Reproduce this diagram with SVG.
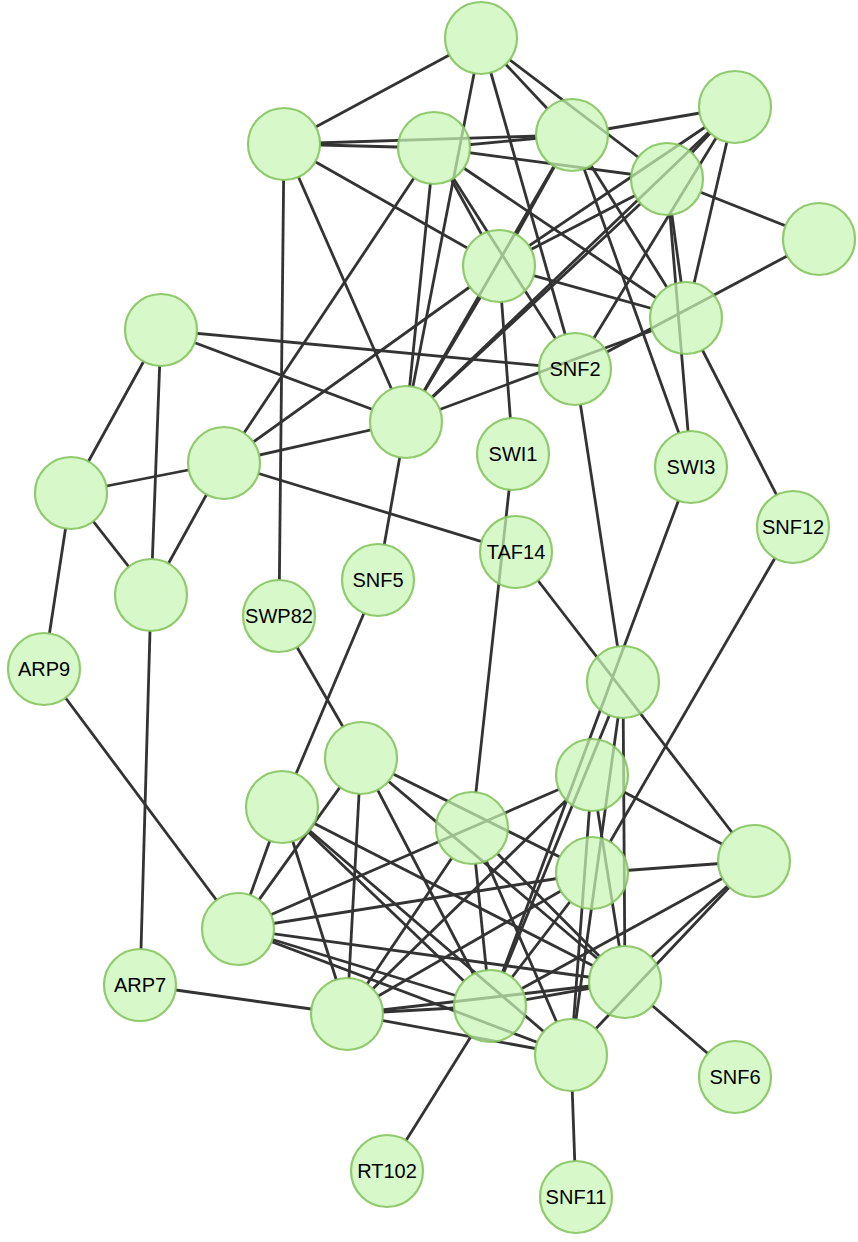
<svg xmlns="http://www.w3.org/2000/svg" width="858" height="1242" viewBox="0 0 858 1242">
<style>
#edges line{stroke:#333;stroke-width:2.8;fill:none}
.n circle{fill:#c8f5b4;fill-opacity:0.72;stroke:#86c460;stroke-opacity:0.9;stroke-width:2.2}
.n text{font-family:"Liberation Sans",Arial,sans-serif;font-size:20px;fill:#000;text-anchor:middle}
mask rect{fill:#fff}
</style>
<defs>
<mask id="m_n1" maskUnits="userSpaceOnUse" x="0" y="0" width="858" height="1242"><rect width="858" height="1242"/><circle cx="481" cy="38" r="36"/></mask>
<mask id="m_n2" maskUnits="userSpaceOnUse" x="0" y="0" width="858" height="1242"><rect width="858" height="1242"/><circle cx="284" cy="144" r="36"/></mask>
<mask id="m_n3" maskUnits="userSpaceOnUse" x="0" y="0" width="858" height="1242"><rect width="858" height="1242"/><circle cx="434" cy="148" r="36"/></mask>
<mask id="m_n4" maskUnits="userSpaceOnUse" x="0" y="0" width="858" height="1242"><rect width="858" height="1242"/><circle cx="572" cy="135" r="36"/></mask>
<mask id="m_n5" maskUnits="userSpaceOnUse" x="0" y="0" width="858" height="1242"><rect width="858" height="1242"/><circle cx="735" cy="107" r="36"/></mask>
<mask id="m_n6" maskUnits="userSpaceOnUse" x="0" y="0" width="858" height="1242"><rect width="858" height="1242"/><circle cx="667" cy="179" r="36"/></mask>
<mask id="m_n7" maskUnits="userSpaceOnUse" x="0" y="0" width="858" height="1242"><rect width="858" height="1242"/><circle cx="819" cy="239" r="36"/></mask>
<mask id="m_n8" maskUnits="userSpaceOnUse" x="0" y="0" width="858" height="1242"><rect width="858" height="1242"/><circle cx="499" cy="266" r="36"/></mask>
<mask id="m_n9" maskUnits="userSpaceOnUse" x="0" y="0" width="858" height="1242"><rect width="858" height="1242"/><circle cx="686" cy="318" r="36"/></mask>
<mask id="m_snf2" maskUnits="userSpaceOnUse" x="0" y="0" width="858" height="1242"><rect width="858" height="1242"/><circle cx="575" cy="369" r="36"/></mask>
<mask id="m_n10" maskUnits="userSpaceOnUse" x="0" y="0" width="858" height="1242"><rect width="858" height="1242"/><circle cx="161" cy="330" r="36"/></mask>
<mask id="m_n11" maskUnits="userSpaceOnUse" x="0" y="0" width="858" height="1242"><rect width="858" height="1242"/><circle cx="406" cy="422" r="36"/></mask>
<mask id="m_swi1" maskUnits="userSpaceOnUse" x="0" y="0" width="858" height="1242"><rect width="858" height="1242"/><circle cx="513" cy="454" r="36"/></mask>
<mask id="m_swi3" maskUnits="userSpaceOnUse" x="0" y="0" width="858" height="1242"><rect width="858" height="1242"/><circle cx="691" cy="467" r="36"/></mask>
<mask id="m_snf12" maskUnits="userSpaceOnUse" x="0" y="0" width="858" height="1242"><rect width="858" height="1242"/><circle cx="793" cy="527" r="36"/></mask>
<mask id="m_n12" maskUnits="userSpaceOnUse" x="0" y="0" width="858" height="1242"><rect width="858" height="1242"/><circle cx="224" cy="463" r="36"/></mask>
<mask id="m_n13" maskUnits="userSpaceOnUse" x="0" y="0" width="858" height="1242"><rect width="858" height="1242"/><circle cx="71" cy="493" r="36"/></mask>
<mask id="m_n14" maskUnits="userSpaceOnUse" x="0" y="0" width="858" height="1242"><rect width="858" height="1242"/><circle cx="151" cy="595" r="36"/></mask>
<mask id="m_taf14" maskUnits="userSpaceOnUse" x="0" y="0" width="858" height="1242"><rect width="858" height="1242"/><circle cx="516" cy="552" r="36"/></mask>
<mask id="m_snf5" maskUnits="userSpaceOnUse" x="0" y="0" width="858" height="1242"><rect width="858" height="1242"/><circle cx="378" cy="580" r="36"/></mask>
<mask id="m_swp82" maskUnits="userSpaceOnUse" x="0" y="0" width="858" height="1242"><rect width="858" height="1242"/><circle cx="279" cy="616" r="36"/></mask>
<mask id="m_arp9" maskUnits="userSpaceOnUse" x="0" y="0" width="858" height="1242"><rect width="858" height="1242"/><circle cx="44" cy="669" r="36"/></mask>
<mask id="m_n15" maskUnits="userSpaceOnUse" x="0" y="0" width="858" height="1242"><rect width="858" height="1242"/><circle cx="623" cy="682" r="36"/></mask>
<mask id="m_n16" maskUnits="userSpaceOnUse" x="0" y="0" width="858" height="1242"><rect width="858" height="1242"/><circle cx="361" cy="758" r="36"/></mask>
<mask id="m_n17" maskUnits="userSpaceOnUse" x="0" y="0" width="858" height="1242"><rect width="858" height="1242"/><circle cx="592" cy="775" r="36"/></mask>
<mask id="m_n18" maskUnits="userSpaceOnUse" x="0" y="0" width="858" height="1242"><rect width="858" height="1242"/><circle cx="282" cy="807" r="36"/></mask>
<mask id="m_n19" maskUnits="userSpaceOnUse" x="0" y="0" width="858" height="1242"><rect width="858" height="1242"/><circle cx="472" cy="828" r="36"/></mask>
<mask id="m_n20" maskUnits="userSpaceOnUse" x="0" y="0" width="858" height="1242"><rect width="858" height="1242"/><circle cx="754" cy="861" r="36"/></mask>
<mask id="m_n21" maskUnits="userSpaceOnUse" x="0" y="0" width="858" height="1242"><rect width="858" height="1242"/><circle cx="592" cy="873" r="36"/></mask>
<mask id="m_n22" maskUnits="userSpaceOnUse" x="0" y="0" width="858" height="1242"><rect width="858" height="1242"/><circle cx="238" cy="929" r="36"/></mask>
<mask id="m_arp7" maskUnits="userSpaceOnUse" x="0" y="0" width="858" height="1242"><rect width="858" height="1242"/><circle cx="140" cy="985" r="36"/></mask>
<mask id="m_n23" maskUnits="userSpaceOnUse" x="0" y="0" width="858" height="1242"><rect width="858" height="1242"/><circle cx="347" cy="1014" r="36"/></mask>
<mask id="m_n24" maskUnits="userSpaceOnUse" x="0" y="0" width="858" height="1242"><rect width="858" height="1242"/><circle cx="490" cy="1006" r="36"/></mask>
<mask id="m_n25" maskUnits="userSpaceOnUse" x="0" y="0" width="858" height="1242"><rect width="858" height="1242"/><circle cx="625" cy="982" r="36"/></mask>
<mask id="m_n26" maskUnits="userSpaceOnUse" x="0" y="0" width="858" height="1242"><rect width="858" height="1242"/><circle cx="571" cy="1055" r="36"/></mask>
<mask id="m_snf6" maskUnits="userSpaceOnUse" x="0" y="0" width="858" height="1242"><rect width="858" height="1242"/><circle cx="735" cy="1077" r="36"/></mask>
<mask id="m_rt102" maskUnits="userSpaceOnUse" x="0" y="0" width="858" height="1242"><rect width="858" height="1242"/><circle cx="387" cy="1171" r="36"/></mask>
<mask id="m_snf11" maskUnits="userSpaceOnUse" x="0" y="0" width="858" height="1242"><rect width="858" height="1242"/><circle cx="576" cy="1197" r="36"/></mask>
</defs>
<rect width="858" height="1242" fill="#fff"/>
<g id="edges">
<g mask="url(#m_n1)">
<line x1="481" y1="38" x2="284" y2="144" mask="url(#m_n2)"/>
<line x1="481" y1="38" x2="572" y2="135" mask="url(#m_n4)"/>
<line x1="481" y1="38" x2="667" y2="179" mask="url(#m_n6)"/>
<line x1="481" y1="38" x2="406" y2="422" mask="url(#m_n11)"/>
<line x1="481" y1="38" x2="575" y2="369" mask="url(#m_snf2)"/>
</g>
<g mask="url(#m_n2)">
<line x1="284" y1="144" x2="434" y2="148" mask="url(#m_n3)"/>
<line x1="284" y1="144" x2="572" y2="135" mask="url(#m_n4)"/>
<line x1="284" y1="144" x2="499" y2="266" mask="url(#m_n8)"/>
<line x1="284" y1="144" x2="406" y2="422" mask="url(#m_n11)"/>
<line x1="284" y1="144" x2="279" y2="616" mask="url(#m_swp82)"/>
</g>
<g mask="url(#m_n3)">
<line x1="434" y1="148" x2="572" y2="135" mask="url(#m_n4)"/>
<line x1="434" y1="148" x2="667" y2="179" mask="url(#m_n6)"/>
<line x1="434" y1="148" x2="499" y2="266" mask="url(#m_n8)"/>
<line x1="434" y1="148" x2="575" y2="369" mask="url(#m_snf2)"/>
<line x1="434" y1="148" x2="686" y2="318" mask="url(#m_n9)"/>
<line x1="434" y1="148" x2="406" y2="422" mask="url(#m_n11)"/>
<line x1="434" y1="148" x2="224" y2="463" mask="url(#m_n12)"/>
</g>
<g mask="url(#m_n4)">
<line x1="572" y1="135" x2="735" y2="107" mask="url(#m_n5)"/>
<line x1="572" y1="135" x2="499" y2="266" mask="url(#m_n8)"/>
<line x1="572" y1="135" x2="406" y2="422" mask="url(#m_n11)"/>
<line x1="572" y1="135" x2="686" y2="318" mask="url(#m_n9)"/>
<line x1="572" y1="135" x2="691" y2="467" mask="url(#m_swi3)"/>
</g>
<g mask="url(#m_n5)">
<line x1="735" y1="107" x2="667" y2="179" mask="url(#m_n6)"/>
<line x1="735" y1="107" x2="499" y2="266" mask="url(#m_n8)"/>
<line x1="735" y1="107" x2="406" y2="422" mask="url(#m_n11)"/>
<line x1="735" y1="107" x2="575" y2="369" mask="url(#m_snf2)"/>
<line x1="735" y1="107" x2="686" y2="318" mask="url(#m_n9)"/>
</g>
<g mask="url(#m_n6)">
<line x1="667" y1="179" x2="819" y2="239" mask="url(#m_n7)"/>
<line x1="667" y1="179" x2="499" y2="266" mask="url(#m_n8)"/>
<line x1="667" y1="179" x2="406" y2="422" mask="url(#m_n11)"/>
<line x1="667" y1="179" x2="686" y2="318" mask="url(#m_n9)"/>
<line x1="667" y1="179" x2="691" y2="467" mask="url(#m_swi3)"/>
</g>
<g mask="url(#m_n7)">
<line x1="819" y1="239" x2="575" y2="369" mask="url(#m_snf2)"/>
</g>
<g mask="url(#m_n8)">
<line x1="499" y1="266" x2="686" y2="318" mask="url(#m_n9)"/>
<line x1="499" y1="266" x2="513" y2="454" mask="url(#m_swi1)"/>
<line x1="499" y1="266" x2="406" y2="422" mask="url(#m_n11)"/>
<line x1="499" y1="266" x2="224" y2="463" mask="url(#m_n12)"/>
</g>
<g mask="url(#m_n9)">
<line x1="686" y1="318" x2="406" y2="422" mask="url(#m_n11)"/>
<line x1="686" y1="318" x2="793" y2="527" mask="url(#m_snf12)"/>
</g>
<g mask="url(#m_snf2)">
<line x1="575" y1="369" x2="161" y2="330" mask="url(#m_n10)"/>
<line x1="575" y1="369" x2="623" y2="682" mask="url(#m_n15)"/>
</g>
<g mask="url(#m_n10)">
<line x1="161" y1="330" x2="406" y2="422" mask="url(#m_n11)"/>
<line x1="161" y1="330" x2="71" y2="493" mask="url(#m_n13)"/>
<line x1="161" y1="330" x2="151" y2="595" mask="url(#m_n14)"/>
</g>
<g mask="url(#m_n11)">
<line x1="406" y1="422" x2="224" y2="463" mask="url(#m_n12)"/>
<line x1="406" y1="422" x2="378" y2="580" mask="url(#m_snf5)"/>
</g>
<g mask="url(#m_n12)">
<line x1="224" y1="463" x2="71" y2="493" mask="url(#m_n13)"/>
<line x1="224" y1="463" x2="151" y2="595" mask="url(#m_n14)"/>
<line x1="224" y1="463" x2="516" y2="552" mask="url(#m_taf14)"/>
</g>
<g mask="url(#m_n13)">
<line x1="71" y1="493" x2="151" y2="595" mask="url(#m_n14)"/>
<line x1="71" y1="493" x2="44" y2="669" mask="url(#m_arp9)"/>
</g>
<g mask="url(#m_n14)">
<line x1="151" y1="595" x2="140" y2="985" mask="url(#m_arp7)"/>
</g>
<g mask="url(#m_swi1)">
<line x1="513" y1="454" x2="472" y2="828" mask="url(#m_n19)"/>
</g>
<g mask="url(#m_swi3)">
<line x1="691" y1="467" x2="490" y2="1006" mask="url(#m_n24)"/>
</g>
<g mask="url(#m_taf14)">
<line x1="516" y1="552" x2="754" y2="861" mask="url(#m_n20)"/>
</g>
<g mask="url(#m_snf5)">
<line x1="378" y1="580" x2="282" y2="807" mask="url(#m_n18)"/>
</g>
<g mask="url(#m_swp82)">
<line x1="279" y1="616" x2="361" y2="758" mask="url(#m_n16)"/>
</g>
<g mask="url(#m_arp9)">
<line x1="44" y1="669" x2="238" y2="929" mask="url(#m_n22)"/>
</g>
<g mask="url(#m_n15)">
<line x1="623" y1="682" x2="490" y2="1006" mask="url(#m_n24)"/>
<line x1="623" y1="682" x2="625" y2="982" mask="url(#m_n25)"/>
<line x1="623" y1="682" x2="571" y2="1055" mask="url(#m_n26)"/>
</g>
<g mask="url(#m_n16)">
<line x1="361" y1="758" x2="238" y2="929" mask="url(#m_n22)"/>
<line x1="361" y1="758" x2="347" y2="1014" mask="url(#m_n23)"/>
<line x1="361" y1="758" x2="490" y2="1006" mask="url(#m_n24)"/>
<line x1="361" y1="758" x2="592" y2="873" mask="url(#m_n21)"/>
<line x1="361" y1="758" x2="625" y2="982" mask="url(#m_n25)"/>
</g>
<g mask="url(#m_n17)">
<line x1="592" y1="775" x2="238" y2="929" mask="url(#m_n22)"/>
<line x1="592" y1="775" x2="347" y2="1014" mask="url(#m_n23)"/>
<line x1="592" y1="775" x2="754" y2="861" mask="url(#m_n20)"/>
<line x1="592" y1="775" x2="625" y2="982" mask="url(#m_n25)"/>
<line x1="592" y1="775" x2="571" y2="1055" mask="url(#m_n26)"/>
</g>
<g mask="url(#m_n18)">
<line x1="282" y1="807" x2="238" y2="929" mask="url(#m_n22)"/>
<line x1="282" y1="807" x2="347" y2="1014" mask="url(#m_n23)"/>
<line x1="282" y1="807" x2="490" y2="1006" mask="url(#m_n24)"/>
<line x1="282" y1="807" x2="571" y2="1055" mask="url(#m_n26)"/>
<line x1="282" y1="807" x2="625" y2="982" mask="url(#m_n25)"/>
</g>
<g mask="url(#m_n19)">
<line x1="472" y1="828" x2="347" y2="1014" mask="url(#m_n23)"/>
<line x1="472" y1="828" x2="490" y2="1006" mask="url(#m_n24)"/>
<line x1="472" y1="828" x2="625" y2="982" mask="url(#m_n25)"/>
<line x1="472" y1="828" x2="571" y2="1055" mask="url(#m_n26)"/>
</g>
<g mask="url(#m_n20)">
<line x1="754" y1="861" x2="592" y2="873" mask="url(#m_n21)"/>
<line x1="754" y1="861" x2="490" y2="1006" mask="url(#m_n24)"/>
<line x1="754" y1="861" x2="625" y2="982" mask="url(#m_n25)"/>
<line x1="754" y1="861" x2="571" y2="1055" mask="url(#m_n26)"/>
</g>
<g mask="url(#m_n21)">
<line x1="592" y1="873" x2="238" y2="929" mask="url(#m_n22)"/>
<line x1="592" y1="873" x2="347" y2="1014" mask="url(#m_n23)"/>
<line x1="592" y1="873" x2="490" y2="1006" mask="url(#m_n24)"/>
<line x1="592" y1="873" x2="793" y2="527" mask="url(#m_snf12)"/>
</g>
<g mask="url(#m_n22)">
<line x1="238" y1="929" x2="490" y2="1006" mask="url(#m_n24)"/>
<line x1="238" y1="929" x2="625" y2="982" mask="url(#m_n25)"/>
<line x1="238" y1="929" x2="571" y2="1055" mask="url(#m_n26)"/>
</g>
<g mask="url(#m_n23)">
<line x1="347" y1="1014" x2="140" y2="985" mask="url(#m_arp7)"/>
<line x1="347" y1="1014" x2="490" y2="1006" mask="url(#m_n24)"/>
<line x1="347" y1="1014" x2="625" y2="982" mask="url(#m_n25)"/>
<line x1="347" y1="1014" x2="571" y2="1055" mask="url(#m_n26)"/>
</g>
<g mask="url(#m_n24)">
<line x1="490" y1="1006" x2="625" y2="982" mask="url(#m_n25)"/>
<line x1="490" y1="1006" x2="387" y2="1171" mask="url(#m_rt102)"/>
</g>
<g mask="url(#m_n25)">
<line x1="625" y1="982" x2="735" y2="1077" mask="url(#m_snf6)"/>
</g>
<g mask="url(#m_n26)">
<line x1="571" y1="1055" x2="576" y2="1197" mask="url(#m_snf11)"/>
</g>
</g>
<g id="n1" class="n"><circle cx="481" cy="38" r="36"/></g>
<g id="n2" class="n"><circle cx="284" cy="144" r="36"/></g>
<g id="n3" class="n"><circle cx="434" cy="148" r="36"/></g>
<g id="n4" class="n"><circle cx="572" cy="135" r="36"/></g>
<g id="n5" class="n"><circle cx="735" cy="107" r="36"/></g>
<g id="n6" class="n"><circle cx="667" cy="179" r="36"/></g>
<g id="n7" class="n"><circle cx="819" cy="239" r="36"/></g>
<g id="n8" class="n"><circle cx="499" cy="266" r="36"/></g>
<g id="n9" class="n"><circle cx="686" cy="318" r="36"/></g>
<g id="snf2" class="n"><circle cx="575" cy="369" r="36"/><text x="575" y="376">SNF2</text></g>
<g id="n10" class="n"><circle cx="161" cy="330" r="36"/></g>
<g id="n11" class="n"><circle cx="406" cy="422" r="36"/></g>
<g id="swi1" class="n"><circle cx="513" cy="454" r="36"/><text x="513" y="461">SWI1</text></g>
<g id="swi3" class="n"><circle cx="691" cy="467" r="36"/><text x="691" y="474">SWI3</text></g>
<g id="snf12" class="n"><circle cx="793" cy="527" r="36"/><text x="793" y="534">SNF12</text></g>
<g id="n12" class="n"><circle cx="224" cy="463" r="36"/></g>
<g id="n13" class="n"><circle cx="71" cy="493" r="36"/></g>
<g id="n14" class="n"><circle cx="151" cy="595" r="36"/></g>
<g id="taf14" class="n"><circle cx="516" cy="552" r="36"/><text x="516" y="559">TAF14</text></g>
<g id="snf5" class="n"><circle cx="378" cy="580" r="36"/><text x="378" y="587">SNF5</text></g>
<g id="swp82" class="n"><circle cx="279" cy="616" r="36"/><text x="279" y="623">SWP82</text></g>
<g id="arp9" class="n"><circle cx="44" cy="669" r="36"/><text x="44" y="676">ARP9</text></g>
<g id="n15" class="n"><circle cx="623" cy="682" r="36"/></g>
<g id="n16" class="n"><circle cx="361" cy="758" r="36"/></g>
<g id="n17" class="n"><circle cx="592" cy="775" r="36"/></g>
<g id="n18" class="n"><circle cx="282" cy="807" r="36"/></g>
<g id="n19" class="n"><circle cx="472" cy="828" r="36"/></g>
<g id="n20" class="n"><circle cx="754" cy="861" r="36"/></g>
<g id="n21" class="n"><circle cx="592" cy="873" r="36"/></g>
<g id="n22" class="n"><circle cx="238" cy="929" r="36"/></g>
<g id="arp7" class="n"><circle cx="140" cy="985" r="36"/><text x="140" y="992">ARP7</text></g>
<g id="n23" class="n"><circle cx="347" cy="1014" r="36"/></g>
<g id="n24" class="n"><circle cx="490" cy="1006" r="36"/></g>
<g id="n25" class="n"><circle cx="625" cy="982" r="36"/></g>
<g id="n26" class="n"><circle cx="571" cy="1055" r="36"/></g>
<g id="snf6" class="n"><circle cx="735" cy="1077" r="36"/><text x="735" y="1084">SNF6</text></g>
<g id="rt102" class="n"><circle cx="387" cy="1171" r="36"/><text x="387" y="1178">RT102</text></g>
<g id="snf11" class="n"><circle cx="576" cy="1197" r="36"/><text x="576" y="1204">SNF11</text></g>
</svg>
